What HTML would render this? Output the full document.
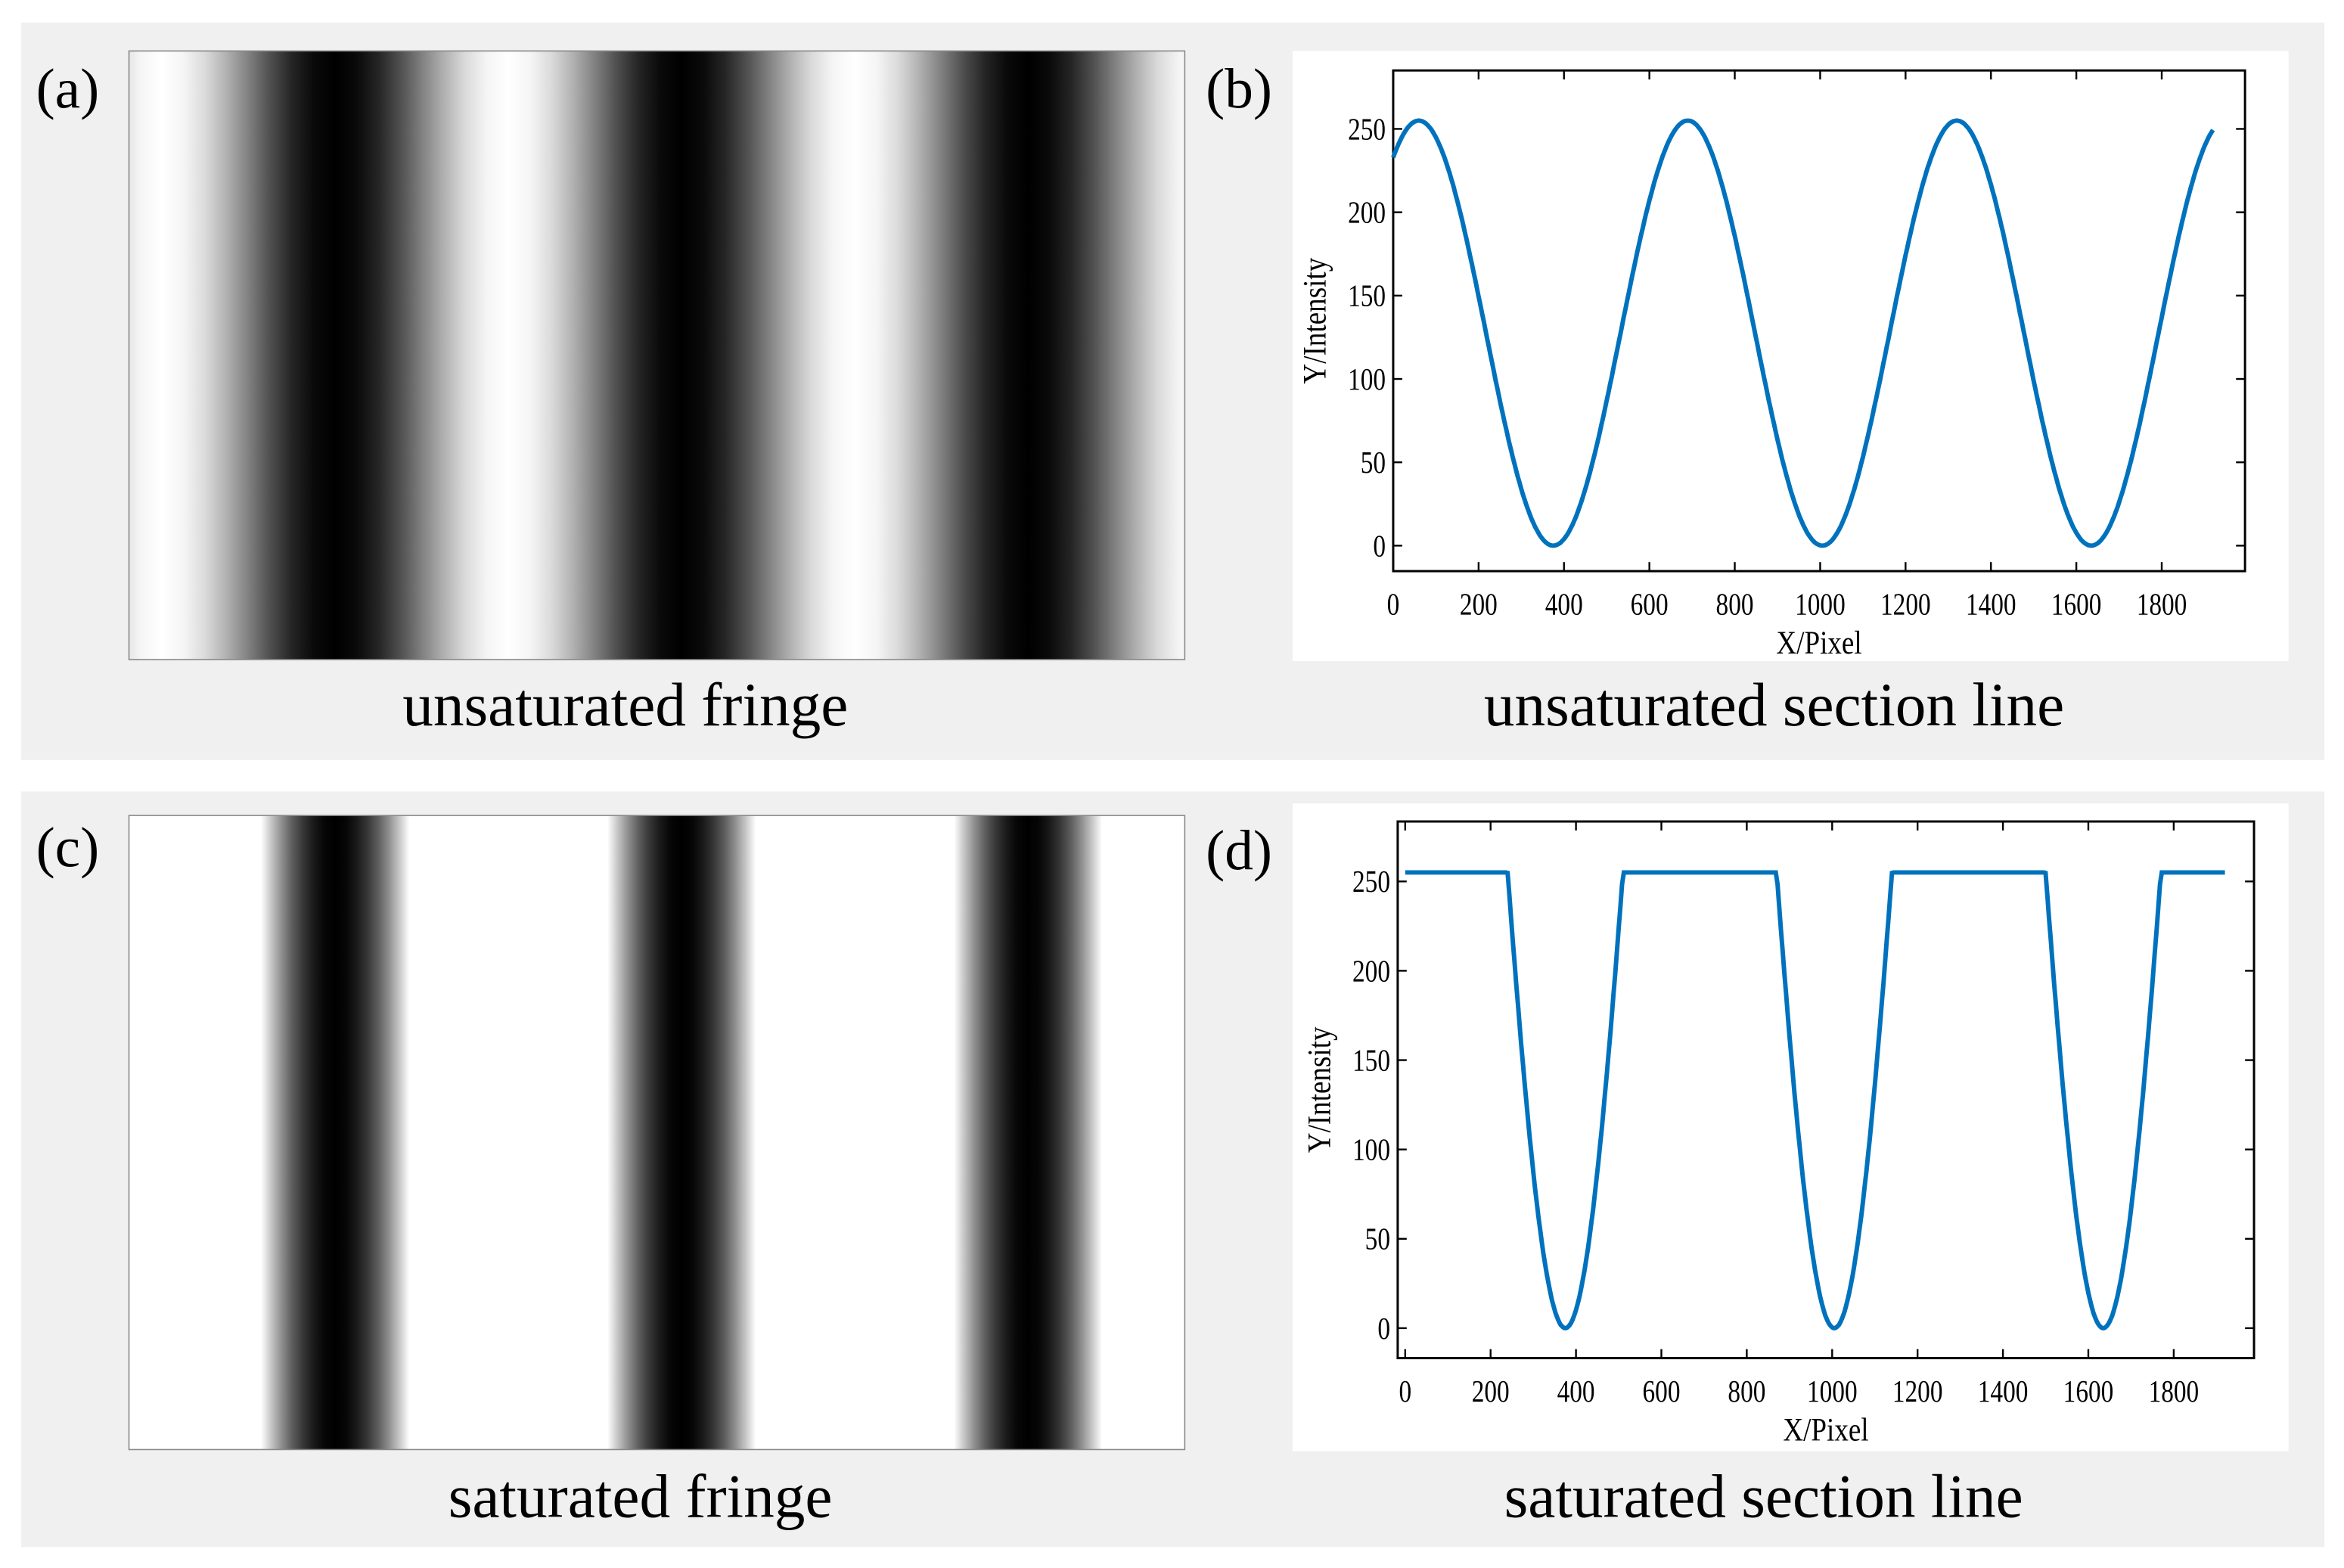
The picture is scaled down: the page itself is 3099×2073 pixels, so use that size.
<!DOCTYPE html>
<html><head><meta charset="utf-8"><style>
html,body{margin:0;padding:0;background:#fff;}
svg{display:block;}
text{font-family:"Liberation Serif",serif;fill:#000;}
</style></head><body>
<svg id="s" width="3099" height="2073" viewBox="0 0 1563 1046" preserveAspectRatio="none" xmlns="http://www.w3.org/2000/svg">
<defs>
<linearGradient id="ga" gradientUnits="userSpaceOnUse" x1="108" y1="0" x2="339" y2="0" spreadMethod="repeat">
<stop offset="0" stop-color="rgb(255,255,255)"/>
<stop offset="0.0625" stop-color="rgb(245,245,245)"/>
<stop offset="0.125" stop-color="rgb(218,218,218)"/>
<stop offset="0.1875" stop-color="rgb(176,176,176)"/>
<stop offset="0.25" stop-color="rgb(128,128,128)"/>
<stop offset="0.3125" stop-color="rgb(79,79,79)"/>
<stop offset="0.375" stop-color="rgb(37,37,37)"/>
<stop offset="0.4375" stop-color="rgb(10,10,10)"/>
<stop offset="0.5" stop-color="rgb(0,0,0)"/>
<stop offset="0.5625" stop-color="rgb(10,10,10)"/>
<stop offset="0.625" stop-color="rgb(37,37,37)"/>
<stop offset="0.6875" stop-color="rgb(79,79,79)"/>
<stop offset="0.75" stop-color="rgb(128,128,128)"/>
<stop offset="0.8125" stop-color="rgb(176,176,176)"/>
<stop offset="0.875" stop-color="rgb(218,218,218)"/>
<stop offset="0.9375" stop-color="rgb(245,245,245)"/>
<stop offset="1" stop-color="rgb(255,255,255)"/>
</linearGradient>
<linearGradient id="gc" gradientUnits="userSpaceOnUse" x1="108" y1="0" x2="339" y2="0" spreadMethod="repeat">
<stop offset="0" stop-color="rgb(255,255,255)"/>
<stop offset="0.286" stop-color="rgb(255,255,255)"/>
<stop offset="0.3125" stop-color="rgb(203,203,203)"/>
<stop offset="0.344" stop-color="rgb(145,145,145)"/>
<stop offset="0.375" stop-color="rgb(95,95,95)"/>
<stop offset="0.406" stop-color="rgb(56,56,56)"/>
<stop offset="0.4375" stop-color="rgb(26,26,26)"/>
<stop offset="0.469" stop-color="rgb(6,6,6)"/>
<stop offset="0.5" stop-color="rgb(0,0,0)"/>
<stop offset="0.531" stop-color="rgb(6,6,6)"/>
<stop offset="0.5625" stop-color="rgb(26,26,26)"/>
<stop offset="0.594" stop-color="rgb(56,56,56)"/>
<stop offset="0.625" stop-color="rgb(95,95,95)"/>
<stop offset="0.656" stop-color="rgb(145,145,145)"/>
<stop offset="0.6875" stop-color="rgb(203,203,203)"/>
<stop offset="0.714" stop-color="rgb(255,255,255)"/>
<stop offset="1" stop-color="rgb(255,255,255)"/>
</linearGradient>
</defs>
<rect x="14" y="15" width="1536" height="492" fill="#f0f0f0"/>
<rect x="14" y="528" width="1536" height="504" fill="#f0f0f0"/>
<rect x="86" y="34" width="704" height="406" fill="url(#ga)" stroke="#888" stroke-width="0.8"/>
<rect x="86" y="544" width="704" height="423" fill="url(#gc)" stroke="#888" stroke-width="0.8"/>
<rect x="862" y="34" width="664" height="407" fill="#fff"/>
<rect x="862" y="536" width="664" height="432" fill="#fff"/>
<text x="24" y="72" font-size="38">(a)</text>
<text x="804" y="72" font-size="38">(b)</text>
<text x="24" y="578" font-size="38">(c)</text>
<text x="804" y="580" font-size="38">(d)</text>
<text x="417" y="484" font-size="41" text-anchor="middle">unsaturated fringe</text>
<text x="1183" y="484" font-size="41" text-anchor="middle">unsaturated section line</text>
<text x="427" y="1012" font-size="41" text-anchor="middle">saturated fringe</text>
<text x="1176" y="1012" font-size="41" text-anchor="middle">saturated section line</text>
<g id="plots"></g>
</svg>
<script>
var NS="http://www.w3.org/2000/svg",g=document.getElementById("plots");
function el(t,a,txt){var e=document.createElementNS(NS,t);for(var k in a)e.setAttribute(k,a[k]);if(txt)e.textContent=txt;g.appendChild(e);return e;}
function plot(o){
 el("rect",{x:o.L,y:o.T,width:o.R-o.L,height:o.B-o.T,fill:"none",stroke:"#000","stroke-width":1.5});
 for(var v=0;v<=250;v+=50){var y=o.y0-v*o.ys;
  el("line",{x1:o.L,y1:y,x2:o.L+6,y2:y,stroke:"#000","stroke-width":1.2});
  el("line",{x1:o.R,y1:y,x2:o.R-6,y2:y,stroke:"#000","stroke-width":1.2});
  el("text",{x:o.L-5,y:y+7,"font-size":21,"text-anchor":"end",transform:"translate("+(o.L-5)+",0) scale(0.8,1) translate("+(-(o.L-5))+",0)"},String(v));}
 for(var p=0;p<=1800;p+=200){var x=o.x0+p*o.xs;
  el("line",{x1:x,y1:o.B,x2:x,y2:o.B-6,stroke:"#000","stroke-width":1.2});
  el("line",{x1:x,y1:o.T,x2:x,y2:o.T+6,stroke:"#000","stroke-width":1.2});
  el("text",{x:x,y:o.B+29,"font-size":21,"text-anchor":"middle",transform:"translate("+x+",0) scale(0.8,1) translate("+(-x)+",0)"},String(p));}
 el("text",{x:(o.L+o.R)/2,y:o.B+55,"font-size":22,"text-anchor":"middle",transform:"translate("+((o.L+o.R)/2)+",0) scale(0.85,1) translate("+(-(o.L+o.R)/2)+",0)"},"X/Pixel");
 var cy=(o.T+o.B)/2;
 el("text",{x:0,y:0,"font-size":22,"text-anchor":"middle",transform:"translate("+(o.L-45)+","+cy+") rotate(-90) scale(0.85,1)"},"Y/Intensity");
 var pts=[];
 for(var p=0;p<=1920;p+=4){var I=127.5+127.5*Math.cos(2*Math.PI*(p-60)/630);if(o.sat)I=Math.min(255,I*2.57);
  pts.push((o.x0+p*o.xs).toFixed(1)+","+(o.y0-I*o.ys).toFixed(1));}
 el("polyline",{points:pts.join(" "),fill:"none",stroke:"#0072bd","stroke-width":3});
}
plot({L:929,R:1497,T:47,B:381,x0:929,xs:0.2847,y0:364,ys:1.112,sat:false});
plot({L:932,R:1503,T:548,B:906,x0:937,xs:0.2847,y0:886,ys:1.192,sat:true});
</script>
</body></html>
